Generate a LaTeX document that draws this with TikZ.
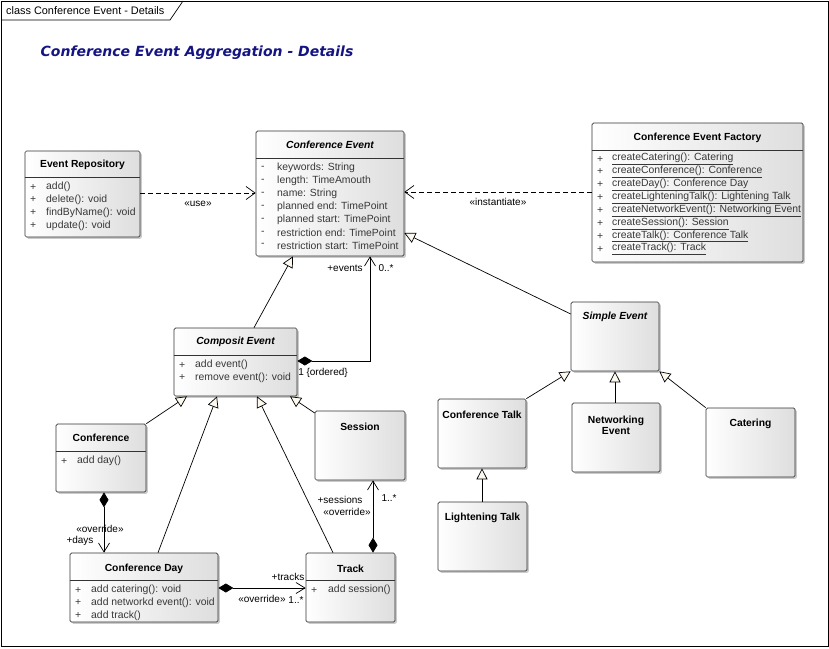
\documentclass[tikz,border=0pt]{standalone}
\usepackage{fontspec}
\setmainfont{Liberation Sans}
\newfontfamily\titlefont{DejaVu Sans}
\usetikzlibrary{arrows.meta,shadows,calc}
\definecolor{navy}{RGB}{20,20,130}
\definecolor{tri}{RGB}{252,250,238}
\tikzset{
  cls/.style={draw=black!80, line width=0.7pt, rounded corners=1.5pt, left color=white, right color=black!13,
    drop shadow={shadow xshift=1.8pt, shadow yshift=-1.8pt, fill=black!45, opacity=0.45}, inner sep=0pt},
  sep/.style={draw=black!80, line width=0.7pt},
  ttl/.style={font=\fontsize{10.3}{12.5}\selectfont\bfseries, text=black, align=center, inner sep=0pt},
  ttli/.style={font=\fontsize{10.3}{12.5}\selectfont\bfseries\itshape, text=black, inner sep=0pt},
  mem/.style={font=\fontsize{10.4}{12}\selectfont, text=black!78, anchor=west, inner sep=0pt},
  lbl/.style={font=\fontsize{10}{12}\selectfont, text=black, inner sep=0pt},
  conn/.style={draw=black, line width=0.7pt},
  gen/.style={conn, -{Triangle[length=11pt,width=11pt,fill=tri]}},
  dep/.style={conn, dash pattern=on 5pt off 3pt, -{Straight Barb[length=9pt,width=13pt]}},
  compo/.style={conn, {Diamond[length=15pt,width=9pt]}-{Straight Barb[length=9pt,width=11pt]}},
}
\newcommand\umlbox[5]{\node[cls, minimum width={#4-#2}, minimum height={#5-#3}] (#1) at ({(#2+#4)/2},{(#3+#5)/2}) {};}
\newcommand\hsep[2]{\draw[sep] (#1.west |- 0,#2) -- (#1.east |- 0,#2);}
\newcommand\members[6]{%
  \foreach \t [count=\i] in {#6} {
    \node[mem] (#1-s\i) at (#2,{#4+12.9*(\i-1)}) {#5};
    \node[mem] (#1-m\i) at (#3,{#4+12.9*(\i-1)}) {\t};
  }}
\begin{document}
\begin{tikzpicture}[x=1pt,y=-1pt]
\useasboundingbox (0,0) rectangle (829,648);
% frame
\draw[line width=0.8pt] (1,1) rectangle (828,646);
\draw[line width=0.7pt] (1,20) -- (170,20) -- (183,1);
\node[font=\fontsize{10.9}{12}\selectfont, anchor=west, inner sep=0pt] (hdr) at (6,10.5) {class Conference Event - Details};
\node[font=\titlefont\fontsize{14}{16}\selectfont\bfseries\itshape, text=navy, inner sep=0pt] (title) at (197,52.5) {Conference Event Aggregation - Details};

% Event Repository
\umlbox{er}{25}{151}{140}{237}
\hsep{er}{177}
\node[ttl] (er-t) at (82.5,165) {Event Repository};
\members{er}{30}{46}{187}{+}{add(),delete(): void,findByName(): void,update(): void}

% Conference Event
\umlbox{ce}{256}{131}{404}{256}
\hsep{ce}{158}
\node[ttli] (ce-t) at (330,144.5) {Conference Event};
\members{ce}{261}{277}{168}{-}{keywords: String,length: TimeAmouth,name: String,planned end: TimePoint,planned start: TimePoint,restriction end: TimePoint,restriction start: TimePoint}

% Conference Event Factory
\umlbox{cef}{592}{123}{803}{262}
\hsep{cef}{150}
\node[ttl] (cef-t) at (697.5,137.5) {Conference Event Factory};
\members{cef}{597}{612}{159}{+}{\underline{createCatering(): Catering},\underline{createConference(): Conference},\underline{createDay(): Conference Day},\underline{createLighteningTalk(): Lightening Talk},\underline{createNetworkEvent(): Networking Event},\underline{createSession(): Session},\underline{createTalk(): Conference Talk},\underline{createTrack(): Track}}

% Composit Event
\umlbox{comp}{174}{328}{297}{396}
\hsep{comp}{355}
\node[ttli] (comp-t) at (235.5,342) {Composit Event};
\members{comp}{179}{195}{365}{+}{add event(),remove event(): void}

% Conference
\umlbox{conf}{56}{424}{146}{492}
\hsep{conf}{451}
\node[ttl] (conf-t) at (101,438) {Conference};
\members{conf}{61}{77}{461}{+}{add day()}

% Session
\umlbox{sess}{315}{411}{405}{480}
\node[ttl] (sess-t) at (360,426.5) {Session};

% Conference Day
\umlbox{cday}{70}{553}{218}{622}
\hsep{cday}{580}
\node[ttl] (cday-t) at (144,568.5) {Conference Day};
\members{cday}{75}{91}{590}{+}{add catering(): void,add networkd event(): void,add track()}

% Track
\umlbox{track}{306}{553}{395}{622}
\hsep{track}{580}
\node[ttl] (track-t) at (350.5,568.5) {Track};
\members{track}{311}{328}{590}{+}{add session()}

% Simple Event and subclasses
\umlbox{se}{571}{302}{659}{371}
\node[ttli] (se-t) at (615,316.5) {Simple Event};
\umlbox{talk}{438}{399}{526}{468}
\node[ttl] (talk-t) at (482,414.5) {Conference Talk};
\umlbox{net}{572}{403}{660}{472}
\node[ttl] (net-t) at (616,425.5) {Networking\\[-1pt]Event};
\umlbox{cat}{706}{408}{795}{477}
\node[ttl] (cat-t) at (750.5,423.5) {Catering};
\umlbox{lt}{438}{502}{527}{571}
\node[ttl] (lt-t) at (482.5,518) {Lightening Talk};

% dependencies
\draw[dep] (er.east |- 0,193) -- (ce.west |- 0,193);
\node[lbl] (l-use) at (198,204) {«use»};
\draw[dep] (cef.west |- 0,192) -- (ce.east |- 0,192);
\node[lbl] (l-inst) at (498,202) {«instantiate»};

% generalizations
\draw[gen] (comp.north -| 254,0) -- (ce.south -| 293,0);
\draw[gen] (se.west |- 0,314) -- (ce.east |- 0,233);
\draw[gen] (conf.north east) -- (comp.south -| 187,0);
\draw[gen] (cday.north -| 158,0) -- (comp.south -| 217,0);
\draw[gen] (track.north -| 333,0) -- (comp.south -| 257,0);
\draw[gen] (sess.west |- 0,413) -- (comp.south -| 290,0);
\draw[gen] (talk.north east) -- (se.south west);
\draw[gen] (net.north -| 615,0) -- (se.south -| 615,0);
\draw[gen] (cat.north west) -- (se.south east);
\draw[gen] (lt.north -| 482,0) -- (talk.south -| 482,0);

% compositions
\draw[compo] (comp.east |- 0,361) -| (ce.south -| 370,0);
\node[lbl] (l-ev) at (345,268) {+events};
\node[lbl] (l-ev2) at (386,268) {0..*};
\node[lbl] (l-ord) at (323,372.5) {1 \{ordered\}};

\draw[compo] (conf.south -| 104,0) -- (cday.north -| 104,0);
\node[lbl] (l-ov1) at (100,529) {«override»};
\node[lbl] (l-days) at (80,541) {+days};

\draw[compo] (cday.east |- 0,588) -- (track.west |- 0,588);
\node[lbl] (l-tr) at (288,577) {+tracks};
\node[lbl] (l-ov2) at (262,598.5) {«override»};
\node[lbl] (l-tr2) at (296,600) {1..*};

\draw[compo] (track.north -| 373,0) -- (sess.south -| 373,0);
\node[lbl] (l-ses) at (340,500) {+sessions};
\node[lbl] (l-ov3) at (347,511.5) {«override»};
\node[lbl] (l-ses2) at (389,498) {1..*};
\end{tikzpicture}
\end{document}
